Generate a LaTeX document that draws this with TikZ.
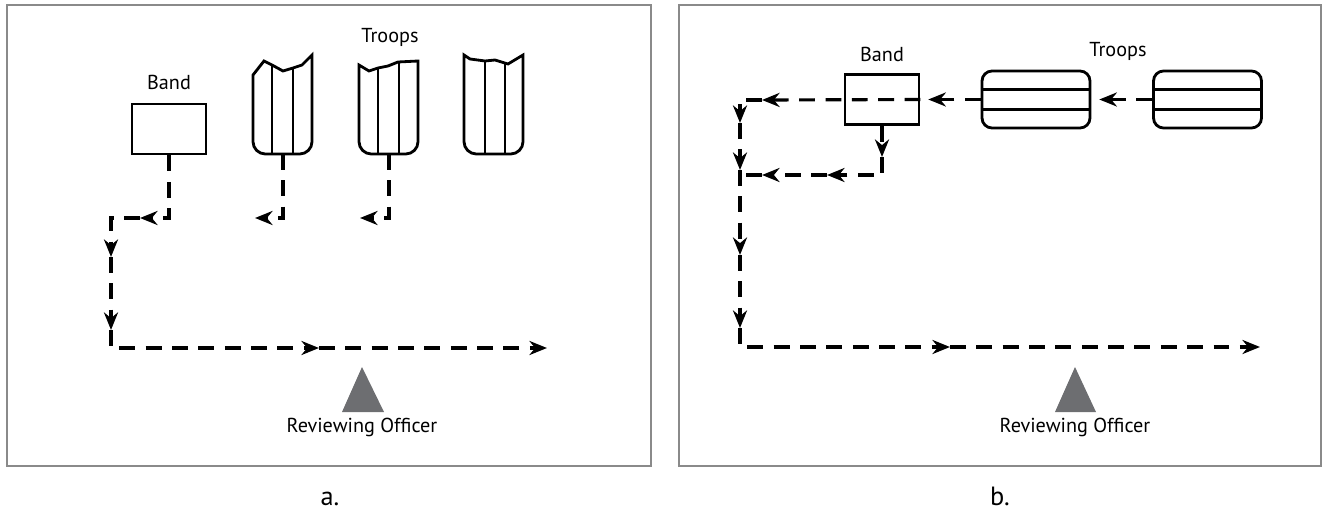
\documentclass[tikz,border=0pt]{standalone}
\usepackage{fontspec}
\setmainfont{PT Sans}
\usetikzlibrary{arrows.meta,positioning,calc}
\definecolor{framegray}{HTML}{8A8A8A}
\definecolor{officergray}{HTML}{6D6E71}

\begin{document}
\begin{tikzpicture}[
  x=0.02cm, y=-0.02cm,
  march/.style={line width=1.8pt,dash pattern=on 9pt off 6pt,-{Stealth[length=10pt,width=8pt]}},
  unitline/.style={line width=1.6pt},
  bandbox/.style={draw,line width=1.6pt,minimum width=1.48cm,minimum height=1cm,inner sep=0pt},
  troopbox/.style={draw,line width=1.6pt,rounded corners=0.2cm,minimum width=2.16cm,minimum height=1.14cm,inner sep=0pt},
  lbl/.style={font=\fontsize{11.5}{13}\selectfont,anchor=base,inner sep=0pt},
  sublbl/.style={font=\fontsize{15}{18}\selectfont,anchor=base,inner sep=0pt},
  panel/.style={draw=framegray,line width=1.4pt},
]
  \useasboundingbox (0,0) rectangle (1325,513);

  % Frames
  \draw[panel] (7,5) rectangle (651,466);
  \draw[panel] (679,5) rectangle (1321,466);

  % Panel a: band and troops in column
  \node[bandbox] (banda) at (169,129) {};
  \node[lbl] (banda-lbl) at (169,90) {Band};
  \node[lbl] (troopsa-lbl) at (390,43) {Troops};

  \draw[unitline] (253,75) -- (264,61) -- (272,65) -- (283,71) -- (293,68) -- (302,65) -- (312,55)
    [rounded corners=7pt] -- (312,154) -- (253,154) [sharp corners] -- (253,75) -- cycle;
  \draw[unitline] (272,65) -- (272,154) (293,68) -- (293,154);
  \draw[unitline] (359,65) -- (369,71) -- (378,68) -- (388,66) -- (398,62) -- (418,61)
    [rounded corners=7pt] -- (418,154) -- (359,154) [sharp corners] -- (359,65) -- cycle;
  \draw[unitline] (378,68) -- (378,154) (399,62) -- (399,154);
  \draw[unitline] (464,55) -- (470,59) -- (485,61) -- (495,60) -- (508,64) -- (523,55)
    [rounded corners=7pt] -- (523,154) -- (464,154) [sharp corners] -- (464,55) -- cycle;
  \draw[unitline] (485,61) -- (485,154) (505,63) -- (505,154);

  \coordinate (t1) at (283,154);
  \coordinate (t2) at (389,154);
  \coordinate (t1e) at (255,218);
  \coordinate (t2e) at (360,218);
  \coordinate (a1) at (140,218);
  \coordinate (a2) at (111,257);
  \coordinate (a3) at (111,330);
  \coordinate (a4) at (319,348);
  \coordinate (a5) at (547,348);

  % Panel a: route
  \draw[march] (banda.south) |- (a1);
  \draw[march] (a1) -| (a2);
  \draw[march] (a2) -- (a3);
  \draw[march] (a3) |- (a4);
  \draw[march] (a4) -- (a5);
  \draw[march] (t1) |- (t1e);
  \draw[march] (t2) |- (t2e);

  % Panel a: reviewing officer
  \fill[officergray] (342,412) -- (362,367) -- (384,412) -- cycle;
  \node[lbl] (roa) at (362,432) {Reviewing Officer};
  \node[sublbl] (capa) at (330,505) {a.};

  % Panel b: band and troops in line
  \node[bandbox] (bandb) at (882,99.5) {};
  \node[lbl] (bandb-lbl) at (882,62) {Band};
  \node[troopbox] (tb1) at (1036,99.5) {};
  \node[troopbox] (tb2) at (1207.5,99.5) {};
  \node[lbl] (troopsb-lbl) at (1118,57) {Troops};
  \foreach \t in {tb1,tb2}
    \foreach \f in {1/3,2/3}
      \draw[unitline] ($(\t.north west)!\f!(\t.south west)$) -- ($(\t.north east)!\f!(\t.south east)$);

  \coordinate (b1) at (762,100);
  \coordinate (b2) at (740,123);
  \coordinate (b3) at (740,170);
  \coordinate (b4) at (882,157);
  \coordinate (b5) at (827,175);
  \coordinate (b6) at (762,175);
  \coordinate (bj) at (740,175);
  \coordinate (b7) at (740,255);
  \coordinate (b8) at (740,328);
  \coordinate (b9) at (950,347);
  \coordinate (b10) at (1260,347);

  % Panel b: route
  \draw[march,shorten >=4.5pt] (tb2.west) -- (tb1.east);
  \draw[march,shorten >=4.5pt] (tb1.west) -- (bandb.east);
  \draw[march] (bandb.east) -- (b1);
  \draw[march] (b1) -| (b2);
  \draw[march] (b2) -- (b3);
  \draw[march] (bandb.south) -- (b4);
  \draw[march] (b4) |- (b5);
  \draw[march] (b5) -- (b6);
  \draw[march,-] (b6) -- (bj);
  \draw[march] (b3) -- (b7);
  \draw[march] (b7) -- (b8);
  \draw[march] (b8) |- (b9);
  \draw[march] (b9) -- (b10);

  % Panel b: reviewing officer
  \fill[officergray] (1055,412) -- (1075,367) -- (1096,412) -- cycle;
  \node[lbl] (rob) at (1075,432) {Reviewing Officer};
  \node[sublbl] (capb) at (1000,505) {b.};
\end{tikzpicture}
\end{document}
